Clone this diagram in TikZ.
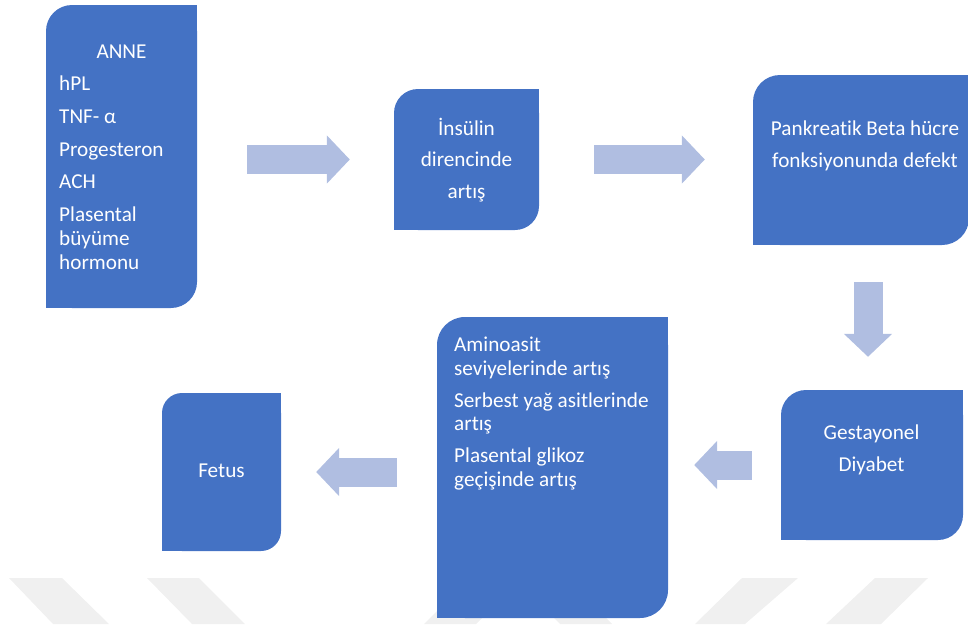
\documentclass[tikz,border=0pt]{standalone}
\usepackage{fontspec}
\setmainfont{Carlito}[Ligatures=CommonOff]
\usetikzlibrary{arrows.meta, calc}
\definecolor{boxblue}{HTML}{4472C4}
\definecolor{arrowblue}{HTML}{B0BEE1}
\definecolor{markgray}{HTML}{F0F0F0}

\tikzset{
  stage/.style={rectangle, inner sep=0pt, path picture={
      \fill[boxblue, rounded corners=#1] (path picture bounding box.south west) rectangle (path picture bounding box.north east);
      \fill[boxblue] (path picture bounding box.south west) rectangle ++(40pt,40pt);
      \fill[boxblue] (path picture bounding box.north east) rectangle ++(-40pt,-40pt);
  }},
  txt/.style={text=white, font=\fontsize{21.2}{24}\selectfont, inner sep=0pt},
  blockarrow/.style={arrowblue, line width=29pt, -{Triangle[length=23pt, width=47pt]}}
}

\begin{document}
\begin{tikzpicture}[x=1pt, y=-1pt]
\useasboundingbox (0,0) rectangle (968,624);
% Faint watermark stripes
\foreach \a/\b/\c/\d in {9/62/109/53, 147/199/245/192, 470/522/476/424, 515/567/612/560, 742/798/745/695, 875/928/881/826} {
  \fill[markgray] (\a,578) -- (\b,578) -- (\c,624) -- (\d,624) -- cycle;
}
% Boxes
\node[stage=26pt, minimum width=151pt, minimum height=303pt] (anne) at (121.5,156.5) {};
\node[stage=24pt, minimum width=145pt, minimum height=141pt] (insulin) at (466.5,159.5) {};
\node[stage=27pt, minimum width=216pt, minimum height=170pt] (beta) at (861,160) {};
\node[stage=25pt, minimum width=182pt, minimum height=150pt] (diyabet) at (872,465) {};
\node[stage=28pt, minimum width=231pt, minimum height=301pt] (amino) at (552.5,467.5) {};
\node[stage=20pt, minimum width=119pt, minimum height=158pt] (fetus) at (221.5,472) {};
% Texts
\node[txt, anchor=base] (anne-t) at (121.5,58) {ANNE};
\foreach \t/\y [count=\i] in {hPL/90, TNF- α/123, Progesteron/156, ACH/188, Plasental/221, büyüme/245, hormonu/269} {
  \node[txt, anchor=base west] (anne-\i) at (59,\y) {\t};
}
\foreach \t/\y [count=\i] in {İnsülin/135, direncinde/166.5, artış/198} {
  \node[txt, anchor=base] (insulin-\i) at (466.5,\y) {\t};
}
\node[txt, anchor=base] (beta-1) at (865,135) {Pankreatik Beta hücre};
\node[txt, anchor=base] (beta-2) at (865,167) {fonksiyonunda defekt};
\node[txt, anchor=base] (diyabet-1) at (871.5,439) {Gestayonel};
\node[txt, anchor=base] (diyabet-2) at (871.5,471) {Diyabet};
\foreach \t/\y [count=\i] in {Aminoasit/351, seviyelerinde artış/375, Serbest yağ asitlerinde/407, artış/430, Plasental glikoz/462, geçişinde artış/486} {
  \node[txt, anchor=base west] (amino-\i) at (454,\y) {\t};
}
\node[txt, anchor=base] (fetus-t) at (221.5,477) {Fetus};
% Block arrows
\draw[blockarrow, shorten <=50pt, shorten >=44pt] (anne.east |- insulin.west) -- (insulin.west);
\draw[blockarrow, shorten <=55pt, shorten >=48pt] (insulin.east) -- (insulin.east -| beta.west);
\draw[blockarrow, shorten <=37pt, shorten >=33pt] ([xshift=-4pt]diyabet.north |- beta.south) -- ([xshift=-4pt]diyabet.north);
\draw[blockarrow, shorten <=29pt, shorten >=26pt] (diyabet.west) -- (diyabet.west -| amino.east);
\draw[blockarrow, shorten <=40pt, shorten >=35pt] (amino.west |- fetus.east) -- (fetus.east);
\end{tikzpicture}
\end{document}
